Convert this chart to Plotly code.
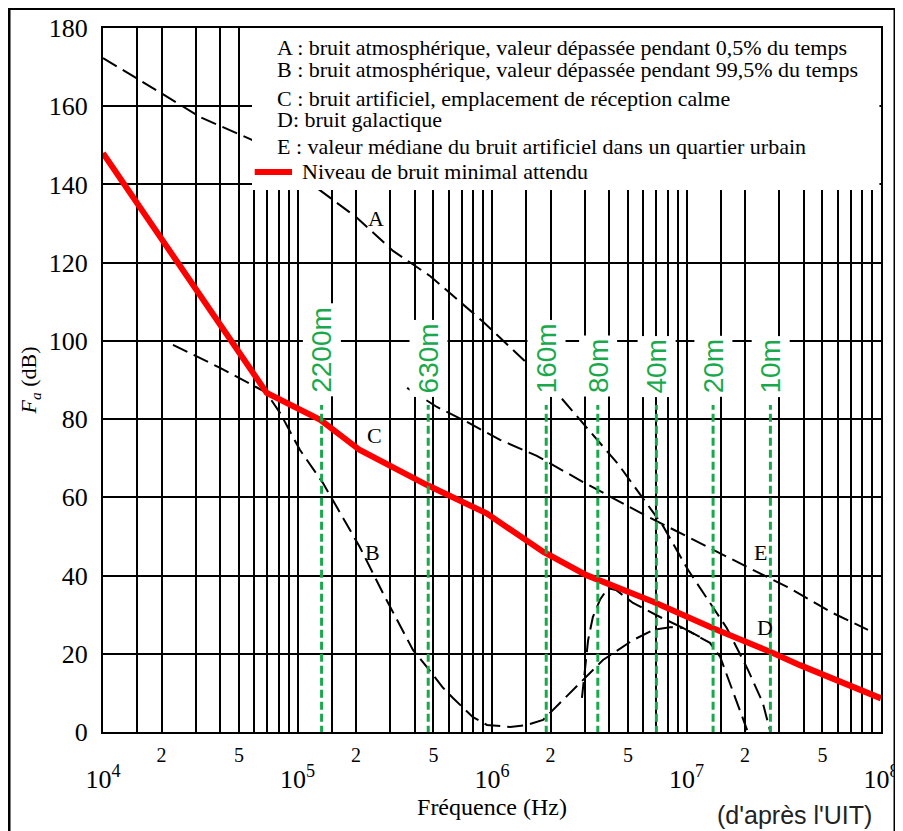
import numpy as np
import plotly.graph_objects as go

# ---------------- data (frequency in Hz, Fa in dB) ----------------
A_f = [1.0e4, 1.43e4, 2.03e4, 3.16e4, 5.83e4, 1.16e5, 2.02e5, 3.10e5, 4.80e5, 9.0e5,
       1.44e6, 1.99e6, 4.45e6, 7.57e6, 1.02e7, 1.32e7, 1.61e7, 2.07e7, 2.47e7, 2.69e7]
A_db = [172.3, 167.7, 163.1, 157.2, 151.4, 140.4, 131.5, 123.0, 116.6, 104.9,
        95.4, 88.7, 68.5, 52.7, 41.4, 33.0, 26.6, 15.9, 7.4, 0.3]

B_f = [1e4, 6.97e4, 8.13e4, 1.03e5, 1.35e5, 2.09e5, 2.75e5, 3.93e5, 4.63e5, 5.60e5,
       6.30e5, 7.98e5, 9.42e5, 1.24e6, 1.51e6, 1.83e6, 2.06e6, 2.83e6, 3.72e6, 5.31e6,
       6.73e6, 8.22e6, 9.59e6, 1.32e7, 1.49e7, 2.05e7]
B_db = [148.0, 86.7, 81.6, 72.1, 63.7, 47.3, 35.5, 20.9, 16.6, 11.3,
        8.7, 3.8, 1.8, 1.3, 1.8, 3.1, 5.6, 12.5, 18.4, 23.5,
        26.1, 26.8, 26.6, 22.8, 19.2, 0.5]

C_f = [2.29e4, 4.0e4, 6.97e4]
C_db = [99.0, 93.1, 86.7]

D_f = [2.90e6, 3.01e6, 3.12e6, 3.30e6, 3.59e6, 3.94e6, 4.34e6, 5.31e6, 7.31e6, 9.59e6, 1.17e7]
D_db = [8.7, 15.9, 23.5, 29.4, 33.8, 36.8, 36.3, 33.0, 29.4, 26.6, 24.3]

E_f = [3.66e5, 5.21e5, 7.43e5, 1.10e6, 1.70e6, 2.94e6, 5.97e6, 1.01e7, 1.37e7, 2.05e7,
       3.29e7, 5.66e7, 8.57e7]
E_db = [88.0, 83.1, 79.3, 74.7, 70.6, 63.9, 55.7, 49.9, 46.5, 42.2, 37.1, 30.4, 26.1]

red_f = [1e4, 6.95e4, 1.31e5, 2.09e5, 4.61e5, 9.38e5, 1.83e6, 3.06e6, 6.74e6, 1.37e7,
         2.69e7, 3.83e7, 1e8]
red_db = [148.0, 86.7, 79.8, 72.1, 63.2, 55.9, 46.1, 40.1, 33.3, 26.5, 20.5, 17.1, 8.6]

wl_labels = ["2200m", "630m", "160m", "80m", "40m", "20m", "10m"]
wl_freqs = [1.33e5, 4.7e5, 1.9e6, 3.5e6, 7.0e6, 1.37e7, 2.7e7]
wl_db_range = [-3.5, 83.6]

curve_labels = ["A", "B", "C", "D", "E"]
curve_label_f = [2.54e5, 2.44e5, 2.5e5, 2.54e7, 2.39e7]
curve_label_db = [131.2, 45.8, 75.9, 26.8, 46.0]

legend_lines = [
    "A : bruit atmosphérique, valeur dépassée pendant 0,5% du temps",
    "B : bruit atmosphérique, valeur dépassée pendant 99,5% du temps",
    "C : bruit artificiel, emplacement de réception calme",
    "D: bruit galactique",
    "E : valeur médiane du bruit artificiel dans un quartier urbain",
]
legend_db = [175.1, 169.3, 162.1, 156.5, 149.8]
red_legend_text = "Niveau de bruit minimal attendu"
red_legend_db = 143.2

decades = [4, 5, 6, 7, 8]
grid_mult = [1.5, 2, 3, 4, 5, 6, 7, 8, 9]
minor_mult = [2, 5]
y_ticks = list(range(0, 181, 20))

SERIF = "Liberation Serif"
SANS = "Liberation Sans"
GREEN = "#19a94c"

# ---------------- figure ----------------
fig = go.Figure()
dash = "16px,7px"
for f, db in [(A_f, A_db), (B_f, B_db), (C_f, C_db), (D_f, D_db), (E_f, E_db)]:
    fig.add_trace(go.Scatter(x=f, y=db, mode="lines",
                             line=dict(color="black", width=2, dash=dash),
                             showlegend=False, hoverinfo="skip"))

fig.add_trace(go.Scatter(x=red_f, y=red_db, mode="lines",
                         line=dict(color="#ff0000", width=6),
                         showlegend=False, hoverinfo="skip"))

for lab, f in zip(wl_labels, wl_freqs):
    fig.add_trace(go.Scatter(x=[f, f], y=wl_db_range, xaxis="x2", mode="lines",
                             line=dict(color=GREEN, width=3, dash="8px,4px"),
                             cliponaxis=False, showlegend=False, hoverinfo="skip"))
    fig.add_annotation(x=np.log10(f), y=85.6, xref="x", yref="y", text=lab,
                       textangle=-90, showarrow=False, xanchor="center", yanchor="bottom",
                       font=dict(family=SANS, size=28, color=GREEN),
                       bgcolor="white", borderpad=3)

for lab, f, db in zip(curve_labels, curve_label_f, curve_label_db):
    fig.add_annotation(x=np.log10(f), y=db, xref="x", yref="y", text=lab,
                       showarrow=False, font=dict(family=SERIF, size=22, color="black"))

# legend box (white, covers grid) and legend texts
fig.add_shape(type="rect", xref="x domain", yref="y", x0=0.1915, x1=0.998, y0=138.6, y1=182,
              fillcolor="white", line=dict(width=0), layer="above")
for txt, db in zip(legend_lines, legend_db):
    fig.add_annotation(x=0.221, y=db, xref="x domain", yref="y", text=txt,
                       showarrow=False, xanchor="left", yanchor="middle",
                       font=dict(family=SERIF, size=22, color="black"))
fig.add_shape(type="line", xref="x domain", yref="y", x0=0.195, x1=0.243,
              y0=red_legend_db, y1=red_legend_db,
              line=dict(color="#ff0000", width=6), layer="above")
fig.add_annotation(x=0.253, y=red_legend_db, xref="x domain", yref="y", text=red_legend_text,
                   showarrow=False, xanchor="left", yanchor="middle",
                   font=dict(family=SERIF, size=22, color="black"))

# source note
fig.add_annotation(x=0.889, y=-0.118, xref="paper", yref="paper", text="(d'après l'UIT)",
                   showarrow=False, xanchor="center", yanchor="middle",
                   font=dict(family=SANS, size=25, color="#222222"))

# outer frame
fig.add_shape(type="rect", xref="paper", yref="paper", x0=-0.1208, x1=1.018, y0=-0.25, y1=1.0277,
              line=dict(color="black", width=3), fillcolor="rgba(0,0,0,0)", layer="above")

decade_vals = [10 ** d for d in decades]
decade_text = ["10<sup>%d</sup>" % d for d in decades]
grid_vals = [m * 10 ** d for d in decades[:-1] for m in grid_mult]
minor_vals = [m * 10 ** d for d in decades[:-1] for m in minor_mult]
minor_text = [str(m) for d in decades[:-1] for m in minor_mult]

# page body has an 8px margin: figure is sized/margined so the plot area lands where the reference's is
fig.update_layout(
    width=895, height=823,
    margin=dict(l=95, r=22, t=20, b=99, autoexpand=False),
    paper_bgcolor="white", plot_bgcolor="white",
    showlegend=False,
    xaxis=dict(type="log", range=[4, 8], tickvals=decade_vals, ticktext=decade_text,
               showgrid=True, gridcolor="black", gridwidth=2, automargin=False,
               minor=dict(tickvals=grid_vals, showgrid=True, gridcolor="black", gridwidth=2, ticks=""),
               showline=True, mirror=True, linecolor="black", linewidth=2,
               ticks="", zeroline=False, ticklabelstandoff=23, ticklabeloverflow="allow",
               tickfont=dict(family=SERIF, size=26, color="black"),
               title=dict(text="Fréquence (Hz)", font=dict(family=SERIF, size=24, color="black"),
                          standoff=0)),
    xaxis2=dict(type="log", range=[4, 8], overlaying="x", anchor="y", side="bottom",
                tickvals=minor_vals, ticktext=minor_text, showgrid=False, showline=False,
                ticks="", zeroline=False, ticklabelstandoff=9, automargin=False,
                tickfont=dict(family=SERIF, size=20, color="black")),
    yaxis=dict(range=[0, 180], tickvals=y_ticks, showgrid=True, gridcolor="black", gridwidth=2,
               showline=True, mirror=True, linecolor="black", linewidth=2, automargin=False,
               ticks="", zeroline=False, ticklabelstandoff=8,
               tickfont=dict(family=SERIF, size=26, color="black"),
               title=dict(text="<i>F</i><sub><i>a</i></sub> (dB)",
                          font=dict(family=SERIF, size=22, color="black"), standoff=6)),
)

fig.write_html("out.html")
